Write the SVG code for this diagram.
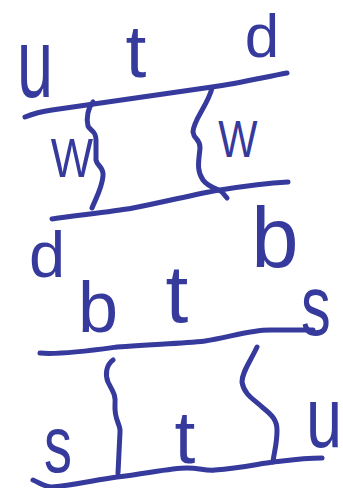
<svg xmlns="http://www.w3.org/2000/svg" width="343" height="488" viewBox="0 0 343 488">
<style>
.ln{fill:none;stroke:#363a9c;stroke-width:5;stroke-linecap:round;stroke-linejoin:round}
.tx{font-family:"Liberation Sans",Arial,sans-serif;fill:#363a9c;text-anchor:middle}
</style>
<rect width="343" height="488" fill="#ffffff"/>
<g id="connectors">
<path class="ln" d="M25,117 C35,113 45,111 52,110 L212,87 C240,83 265,77 287,73"/>
<path class="ln" d="M93,102 C88,108 86,118 88,126 C90,131 96,130 96,140 L96,160 C97,166 104,167 103,176 C102,188 96,198 92,208"/>
<path class="ln" d="M212,88 C208,105 193,120 193,132 C194,140 200,138 200,148 C199,160 196,170 203,180 C208,187 218,189 222,192 L227,198"/>
<path class="ln" d="M52,219 C80,215 110,212 133,208 C165,202 195,194 220,190 C245,186 270,183 288,182"/>
<path class="ln" d="M40,353 C60,355 95,350 117,347 C150,344 180,344 205,341 C230,337 250,330 270,330 L313,330"/>
<path class="ln" d="M113,360 C106,365 105,375 108,382 C113,392 116,395 115,405 C114,420 121,425 120,432 L118,473"/>
<path class="ln" d="M257,347 C250,362 242,372 242,382 C244,395 255,400 262,407 C272,415 277,420 277,430 C277,445 274,452 273,462"/>
<path class="ln" d="M33,480 C40,483 45,487 52,487 C75,485 95,480 117,477 C145,474 170,468 187,468 C200,468 205,471 215,470 C240,468 258,464 273,462 C290,460 305,458 322,458"/>
</g>
<g id="labels">
<text class="tx" transform="translate(35,97) scale(1,1.5)" font-size="65">u</text>
<text class="tx" transform="translate(136,77)" font-size="75">t</text>
<text class="tx" transform="translate(262,57)" font-size="62">d</text>
<text class="tx" transform="translate(72,177) scale(0.8,1)" font-size="56">W</text>
<text class="tx" transform="translate(238,157) scale(0.8,1)" font-size="52">W</text>
<text class="tx" transform="translate(47,277)" font-size="65">d</text>
<text class="tx" transform="translate(275,267)" font-size="85">b</text>
<text class="tx" transform="translate(98,332)" font-size="72">b</text>
<text class="tx" transform="translate(177,322)" font-size="82">t</text>
<text class="tx" transform="translate(316,335) scale(0.7,1)" font-size="85">s</text>
<text class="tx" transform="translate(58,472) scale(0.7,1)" font-size="80">s</text>
<text class="tx" transform="translate(185,463)" font-size="75">t</text>
<text class="tx" transform="translate(324,447) scale(1,1.3)" font-size="65">u</text>
</g>
</svg>
